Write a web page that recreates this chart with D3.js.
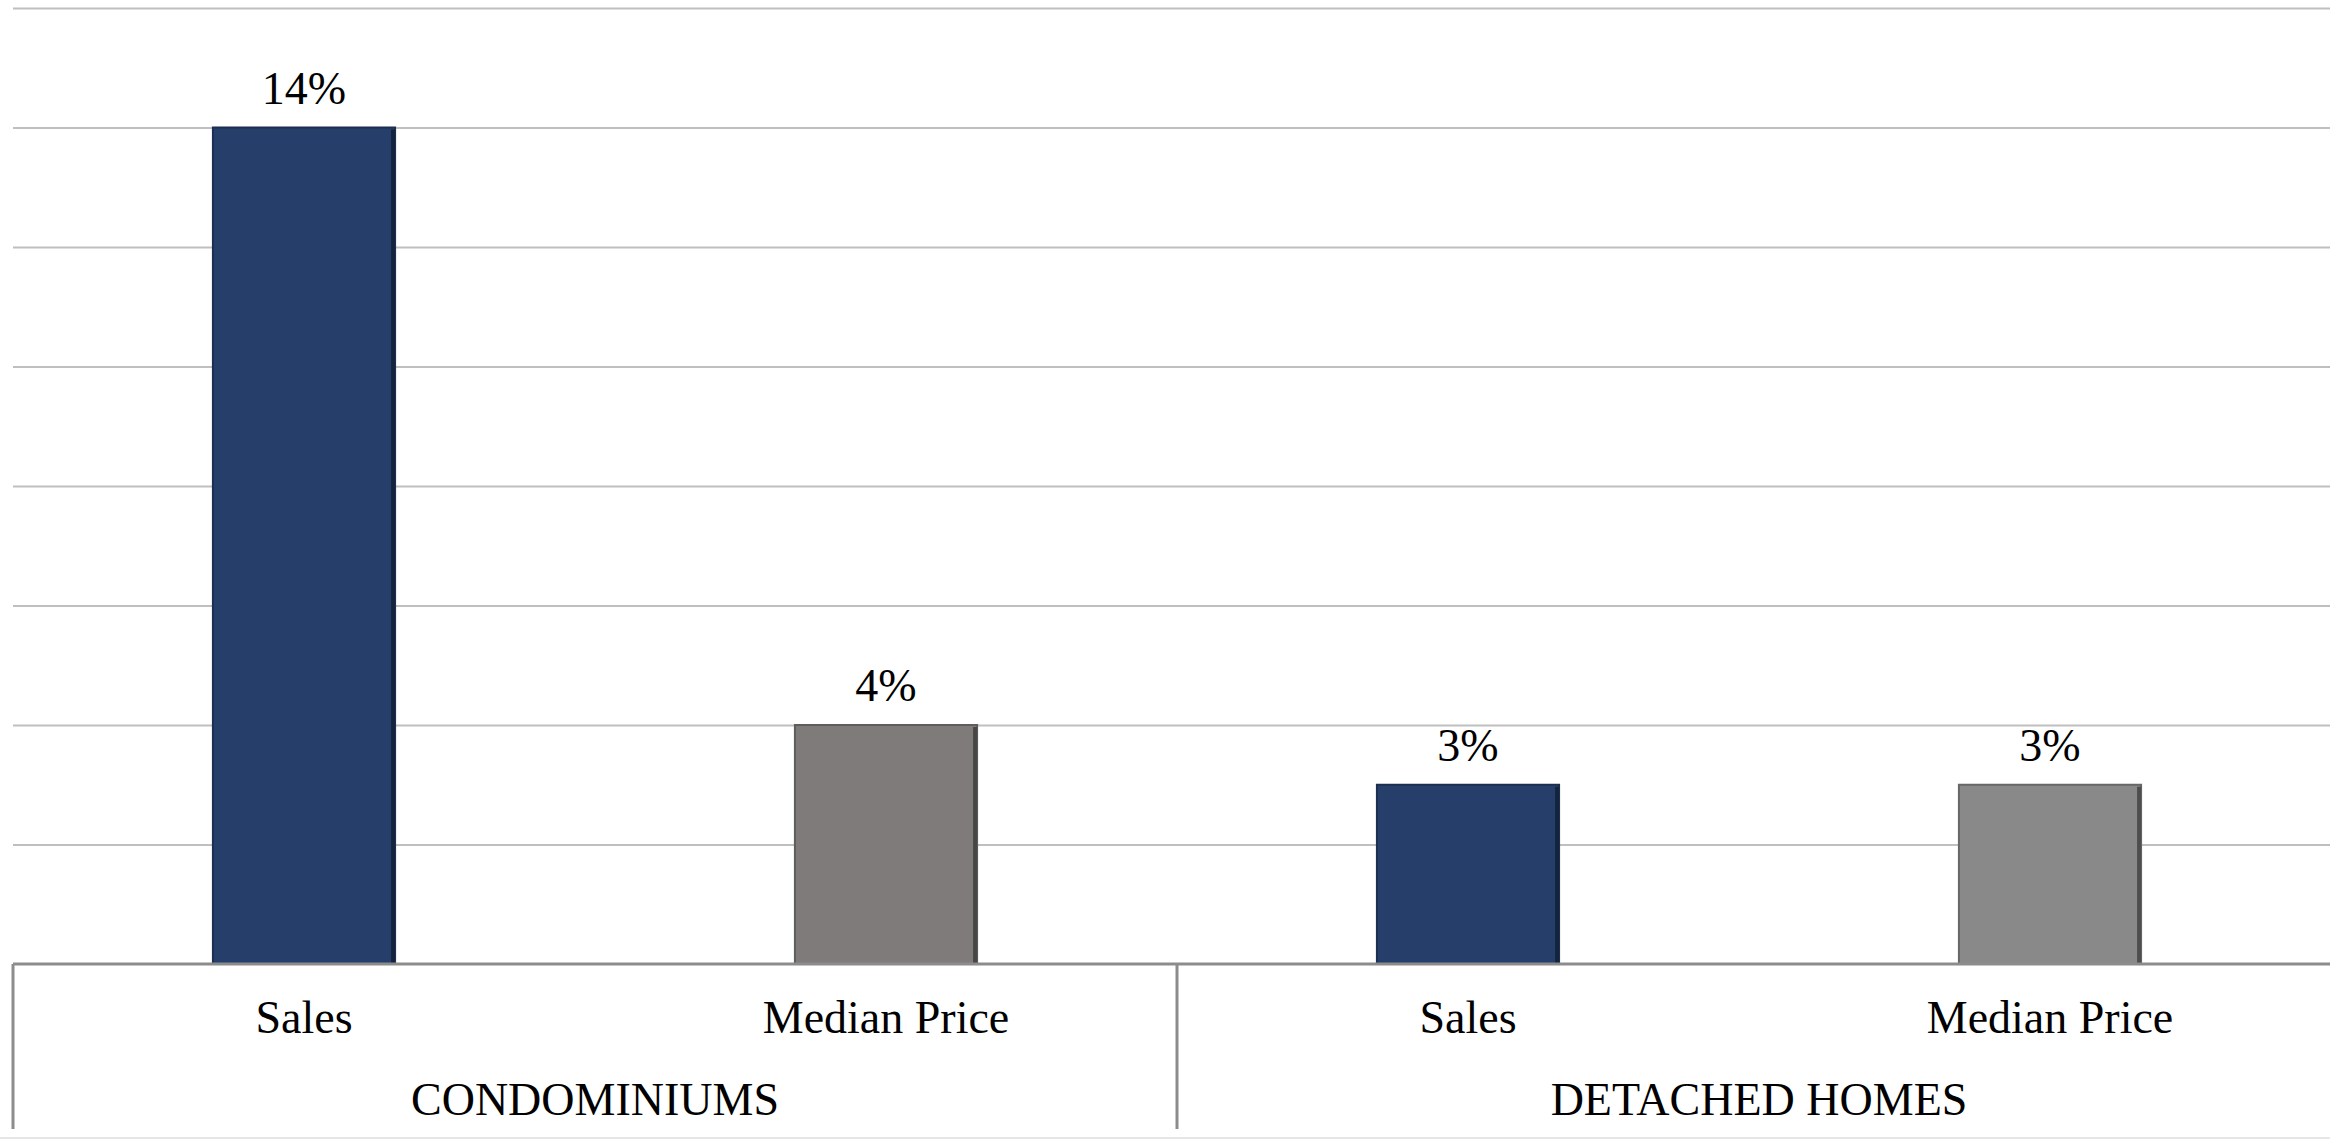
<!DOCTYPE html>
<html>
<head>
<meta charset="utf-8">
<script src="https://cdn.jsdelivr.net/npm/d3@7"></script>
<style>
  html, body { margin: 0; padding: 0; background: #fff; }
  svg { display: block; }
  text { font-family: "Liberation Serif", "DejaVu Serif", serif; fill: #000; }
</style>
</head>
<body>
<svg id="chart" width="2330" height="1139"></svg>
<script>
// Year-over-year change by property type
const groups = ["CONDOMINIUMS", "DETACHED HOMES"];
const measures = ["Sales", "Median Price"];
const condoValues = [14, 4];
const detachedValues = [3, 3];
const barColors = ["#253F6A", "#7F7B7A", "#253F6A", "#898989"];
const yTicks = [0, 2, 4, 6, 8, 10, 12, 14, 16];

const rows = [];
[condoValues, detachedValues].forEach((vals, gi) => {
  vals.forEach((v, mi) => rows.push({ group: groups[gi], measure: measures[mi], value: v, key: gi + "-" + mi }));
});
rows.forEach((d, i) => d.color = barColors[i]);

const W = 2330, H = 1139;
const plotLeft = 13, plotRight = 2341, plotTop = 8, plotBase = 964;
const fontSize = 46;

const svg = d3.select("#chart");

const x = d3.scaleBand()
  .domain(rows.map(d => d.key))
  .range([plotLeft, plotRight])
  .paddingInner(0.687)
  .paddingOuter(0.3435);

const y = d3.scaleLinear().domain([0, 16]).range([plotBase, plotTop]);

// horizontal gridlines
const grid = d3.axisLeft(y).tickValues(yTicks).tickSize(-(plotRight - plotLeft)).tickFormat("");
svg.append("g")
  .attr("transform", `translate(${plotLeft},0)`)
  .call(grid)
  .call(g => g.select(".domain").remove())
  .call(g => g.selectAll(".tick line").attr("stroke", "#BFBFBF").attr("stroke-width", 2))
  .call(g => g.selectAll(".tick").filter(d => d === 0).remove());

// bars
const bars = svg.append("g").selectAll("g").data(rows).join("g");
bars.append("rect")
  .attr("x", d => x(d.key))
  .attr("y", d => y(d.value))
  .attr("width", x.bandwidth())
  .attr("height", d => y(0) - y(d.value))
  .attr("fill", d => d.color)
  .attr("stroke", d => d3.color(d.color).darker(0.8))
  .attr("stroke-width", 2);
// shaded right edge
bars.append("rect")
  .attr("x", d => x(d.key) + x.bandwidth() - 4)
  .attr("y", d => y(d.value) + 2)
  .attr("width", 4)
  .attr("height", d => y(0) - y(d.value) - 2)
  .attr("fill", d => d3.color(d.color).darker(1.6));

// value labels
bars.append("text")
  .attr("x", d => x(d.key) + x.bandwidth() / 2)
  .attr("y", d => y(d.value) - 24)
  .attr("text-anchor", "middle")
  .attr("font-size", fontSize)
  .text(d => d.value + "%");

// category axis with group brackets
const axis = svg.append("g").attr("stroke", "#8C8C8C").attr("stroke-width", 3);
axis.append("line").attr("x1", plotLeft).attr("x2", W).attr("y1", plotBase).attr("y2", plotBase);
const groupEdges = [plotLeft, x(rows[2].key) - x.step() * x.paddingInner() / 2];
groupEdges.forEach(gx => {
  axis.append("line").attr("x1", gx).attr("x2", gx).attr("y1", plotBase).attr("y2", 1129);
});

// measure labels
svg.append("g").selectAll("text").data(rows).join("text")
  .attr("x", d => x(d.key) + x.bandwidth() / 2)
  .attr("y", 1033)
  .attr("text-anchor", "middle")
  .attr("font-size", fontSize)
  .text(d => d.measure);

// group labels
svg.append("g").selectAll("text").data(groups).join("text")
  .attr("x", g => {
    const ks = rows.filter(r => r.group === g).map(r => x(r.key) + x.bandwidth() / 2);
    return (ks[0] + ks[ks.length - 1]) / 2;
  })
  .attr("y", 1115)
  .attr("text-anchor", "middle")
  .attr("font-size", fontSize)
  .text(d => d);

// outer frame edge
svg.append("line").attr("x1", 0).attr("x2", W).attr("y1", 1138).attr("y2", 1138)
  .attr("stroke", "#E6E6E6").attr("stroke-width", 2);
</script>
</body>
</html>
